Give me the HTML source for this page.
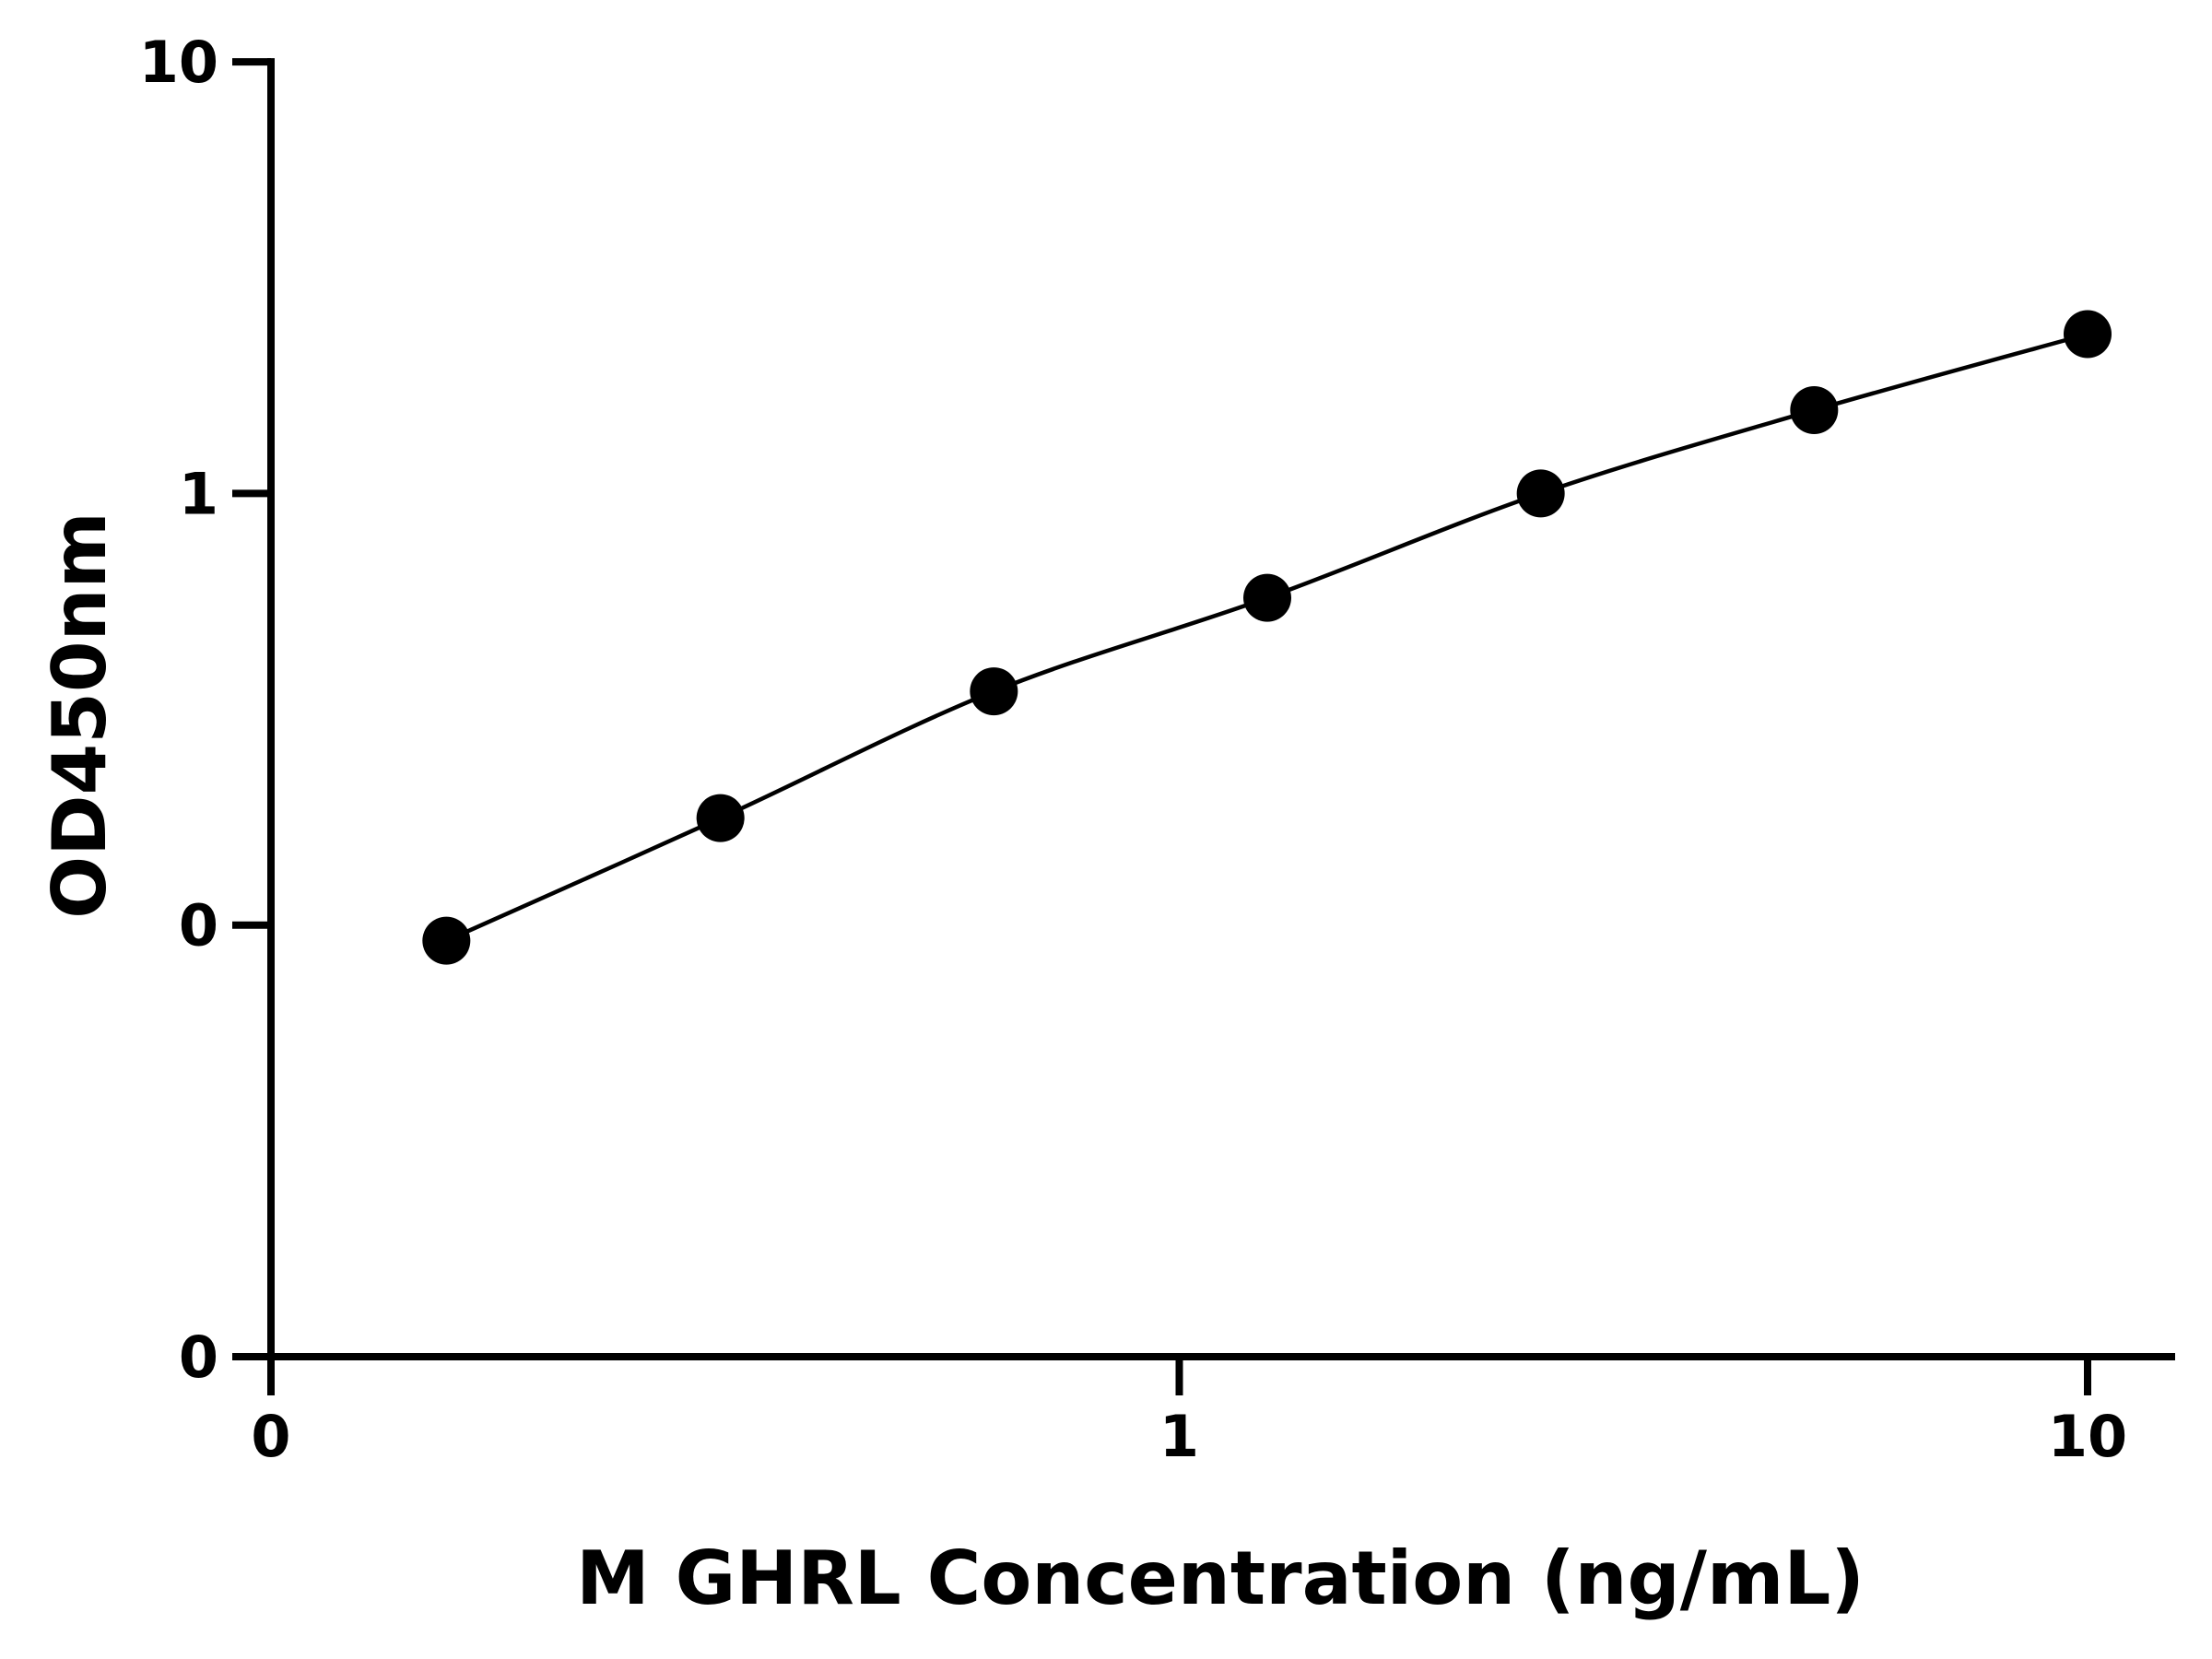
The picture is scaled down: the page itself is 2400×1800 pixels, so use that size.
<!DOCTYPE html>
<html><head><meta charset="utf-8"><style>
html,body{margin:0;padding:0;background:#fff;}
svg{display:block;font-family:"DejaVu Sans","Liberation Sans",sans-serif;font-weight:bold;}
</style></head><body>
<svg id="chart" width="2400" height="1800" viewBox="0 0 2400 1800" xmlns="http://www.w3.org/2000/svg">
<g id="axes"></g>
<g id="marks"></g>
<text x="1324" y="1740" font-size="80" text-anchor="middle">M GHRL Concentration (ng/mL)</text>
<text transform="translate(114,776) rotate(-90)" font-size="80" text-anchor="middle">OD450nm</text>
</svg>
<script>
const concentrations = [0.156, 0.3125, 0.625, 1.25, 2.5, 5, 10];
const odValues = [0.092, 0.177, 0.348, 0.573, 1.0, 1.56, 2.34];
const xTickValues = [0.1, 1, 10];
const xTickLabels = ["0", "1", "10"];
const yTickValues = [0.01, 0.1, 1, 10];
const yTickLabels = ["0", "0", "1", "10"];

const NS = "http://www.w3.org/2000/svg";
const X0 = 294, XDEC = 985.5, Y0 = 1472, YDEC = 468.3;
function xs(v){ return X0 + (Math.log10(v) + 1) * XDEC; }
function ys(v){ return Y0 - (Math.log10(v) + 2) * YDEC; }
function mk(tag, attrs, parent){
  const el = document.createElementNS(NS, tag);
  for (const k in attrs) el.setAttribute(k, attrs[k]);
  parent.appendChild(el);
  return el;
}
const axes = document.getElementById('axes');
const marks = document.getElementById('marks');

let l = mk('line', {x1:X0, y1:ys(10)-4, x2:X0, y2:Y0+4, stroke:'#000','stroke-width':8}, axes);


l = mk('line', {x1:X0-4, y1:Y0, x2:2360, y2:Y0, stroke:'#000','stroke-width':8}, axes);



yTickValues.forEach((v,i)=>{
  const y = ys(v);
  const t = mk('line', {x1:X0-42, y1:y, x2:X0, y2:y, stroke:'#000','stroke-width':8}, axes);
  
  
  const tx = mk('text', {x:237, y:y+22, 'font-size':62, 'text-anchor':'end'}, axes);
  tx.textContent = yTickLabels[i];
  
  
});
xTickValues.forEach((v,i)=>{
  const x = xs(v);
  const t = mk('line', {x1:x, y1:Y0, x2:x, y2:Y0+42, stroke:'#000','stroke-width':8}, axes);
  
  
  const tx = mk('text', {x:x, y:1580, 'font-size':62, 'text-anchor':'middle'}, axes);
  tx.textContent = xTickLabels[i];
  
  
});

// smooth curve (Catmull-Rom) through points
const pts = concentrations.map((c,i)=>[xs(c), ys(odValues[i])]);
let d = 'M' + pts[0][0] + ',' + pts[0][1];
for (let i=0;i<pts.length-1;i++){
  const p0 = pts[Math.max(0,i-1)], p1 = pts[i], p2 = pts[i+1], p3 = pts[Math.min(pts.length-1,i+2)];
  const c1x = p1[0] + (p2[0]-p0[0])/6, c1y = p1[1] + (p2[1]-p0[1])/6;
  const c2x = p2[0] - (p3[0]-p1[0])/6, c2y = p2[1] - (p3[1]-p1[1])/6;
  d += ' C' + c1x + ',' + c1y + ' ' + c2x + ',' + c2y + ' ' + p2[0] + ',' + p2[1];
}
const curve = mk('path', {d:d, fill:'none', stroke:'#000', 'stroke-width':4.5}, marks);



pts.forEach(p=>{
  const c = mk('circle', {cx:p[0], cy:p[1], r:26, fill:'#000'}, marks);
  
  
});
</script>
</body></html>
